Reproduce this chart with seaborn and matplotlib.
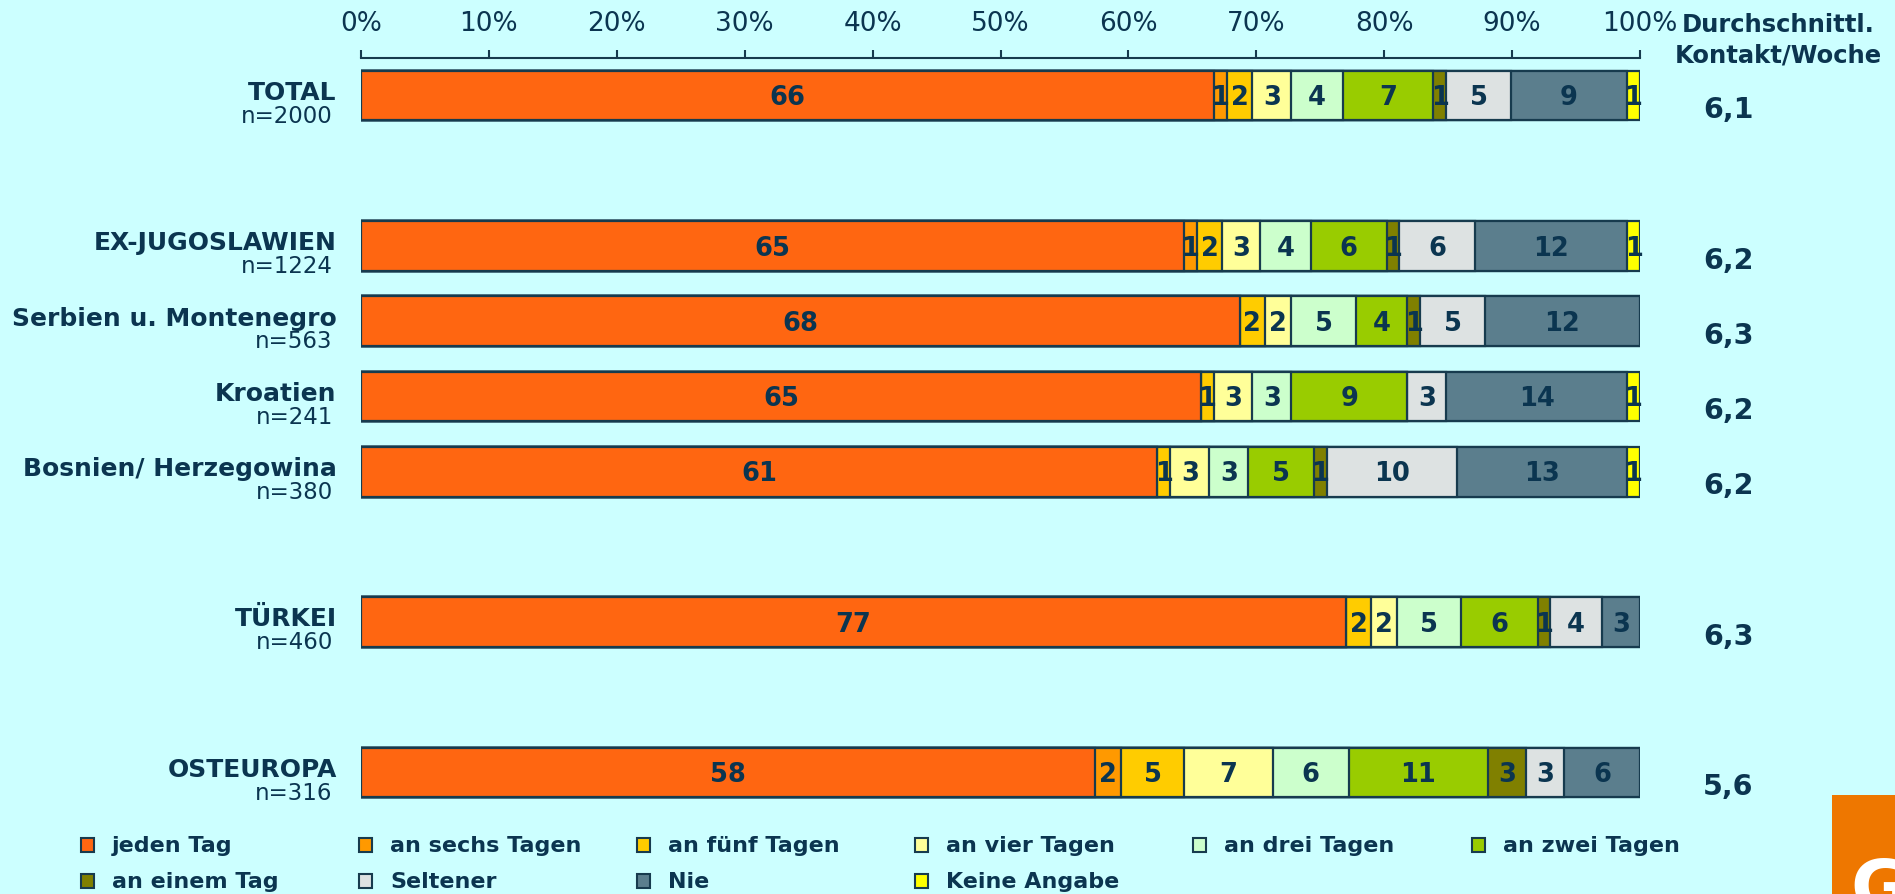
import numpy as np
import pandas as pd
import matplotlib
matplotlib.use("Agg")
import matplotlib.pyplot as plt
import seaborn as sns
from matplotlib.patches import Rectangle

# ==========================================
# 1. DATA
# ==========================================
groups = ["TOTAL", "EX-JUGOSLAWIEN", "Serbien u. Montenegro", "Kroatien",
          "Bosnien/ Herzegowina", "TÜRKEI", "OSTEUROPA"]
sample_n = ["n=2000", "n=1224", "n=563", "n=241", "n=380", "n=460", "n=316"]
row_pos = [0, 2, 3, 4, 5, 7, 9]          # leere Zeilen zwischen den Blöcken
avg_contact = ["6,1", "6,2", "6,3", "6,2", "6,2", "6,3", "5,6"]

answers = ["jeden Tag", "an sechs Tagen", "an fünf Tagen", "an vier Tagen",
           "an drei Tagen", "an zwei Tagen", "an einem Tag", "Seltener",
           "Nie", "Keine Angabe"]

jeden_tag = [66, 65, 68, 65, 61, 77, 58]
sechs_tage = [1, 1, 0, 0, 0, 0, 2]
fuenf_tage = [2, 2, 2, 1, 1, 2, 5]
vier_tage = [3, 3, 2, 3, 3, 2, 7]
drei_tage = [4, 4, 5, 3, 3, 5, 6]
zwei_tage = [7, 6, 4, 9, 5, 6, 11]
einem_tag = [1, 1, 1, 0, 1, 1, 3]
seltener = [5, 6, 5, 3, 10, 4, 3]
nie = [9, 12, 12, 14, 13, 3, 6]
keine_angabe = [1, 1, 0, 1, 1, 0, 0]

colors = ["#FF6611", "#FF9900", "#FFCC00", "#FFFF99", "#CCFFCC",
          "#99CC00", "#808000", "#DDE2E2", "#5B7E8D", "#FFFF00"]

# ==========================================
# 2. PRE-PROCESSING
# ==========================================
df = pd.DataFrame(
    np.array([jeden_tag, sechs_tage, fuenf_tage, vier_tage, drei_tage,
              zwei_tage, einem_tag, seltener, nie, keine_angabe]).T,
    columns=answers)
df["pos"] = row_pos
# 100%-Balken: Anteile auf die Zeilensumme normieren
pct = df[answers].div(df[answers].sum(axis=1), axis=0) * 100
cum = pct.cumsum(axis=1)

# ==========================================
# 3. PLOT
# ==========================================
BG = "#CCFFFF"
TXT = "#0B3550"
EDGE = "#173B4E"
W, H = 1895, 895

sns.set_theme(style="white")
plt.rcParams["font.family"] = ["DejaVu Sans"]

fig = plt.figure(figsize=(W / 100, H / 100), dpi=100, facecolor=BG)
ax = fig.add_axes([361 / W, 1 - 806 / H, (1640 - 361) / W, (806 - 59) / H])
ax.set_facecolor(BG)

# kumulierte Balken von hinten nach vorne zeichnen
for k in range(len(answers) - 1, -1, -1):
    sns.barplot(x=cum[answers[k]], y=df["pos"], orient="h", native_scale=True,
                color=colors[k], edgecolor=EDGE, linewidth=1.6, width=0.66,
                saturation=1, errorbar=None, ax=ax)

# Werte in den Segmenten
for i in range(len(df)):
    for k, col in enumerate(answers):
        val = df[col].iloc[i]
        if val > 0:
            xc = cum[col].iloc[i] - pct[col].iloc[i] / 2
            ax.text(xc, df["pos"].iloc[i] + 0.02, f"{val}", ha="center", va="center",
                    fontsize=18.5, fontweight="bold", color=TXT)

# Gruppenbeschriftungen links, Durchschnitt rechts
for i, p in enumerate(row_pos):
    ax.text(-1.9, p - 0.05, groups[i], ha="right", va="center",
            fontsize=18, fontweight="bold", color=TXT)
    ax.text(-2.2, p + 0.26, sample_n[i], ha="right", va="center",
            fontsize=16.5, color=TXT)
    ax.text(106.9, p + 0.18, avg_contact[i], ha="center", va="center",
            fontsize=20.5, fontweight="bold", color=TXT)

fig.text(1778 / W, 1 - 40 / H, "Durchschnittl.\nKontakt/Woche", ha="center",
         va="center", fontsize=17.5, fontweight="bold", color=TXT, linespacing=1.35)

ax.set_xlim(0, 100)
ax.set_ylim(9.43, -0.5)
ax.xaxis.tick_top()
ax.set_xticks(range(0, 101, 10))
ax.set_xticklabels([f"{t}%" for t in range(0, 101, 10)], fontsize=19, color=TXT)
ax.tick_params(axis="x", direction="out", length=6, width=1.5, color=EDGE, pad=10)
ax.set_yticks([])
ax.set_xlabel("")
ax.set_ylabel("")
for s in ["left", "right", "bottom"]:
    ax.spines[s].set_visible(False)
ax.spines["top"].set_color(EDGE)
ax.spines["top"].set_linewidth(1.5)

# Legende (zwei Zeilen, feste Spaltenabstände)
col_x = [81, 359, 637, 915, 1193, 1472]
row_y = [846, 882]
for k, lab in enumerate(answers):
    r, c = divmod(k, 6)
    x0, yc = col_x[c], row_y[r]
    fig.add_artist(Rectangle((x0 / W, 1 - (yc + 7) / H), 13 / W, 14 / H,
                             transform=fig.transFigure, facecolor=colors[k],
                             edgecolor=EDGE, linewidth=1.5))
    fig.text((x0 + 31) / W, 1 - yc / H, lab, ha="left", va="center",
             fontsize=16, fontweight="bold", color=TXT)

# Logo-Ecke unten rechts
fig.add_artist(Rectangle((1832 / W, 0), (W - 1832) / W, (895 - 796) / H,
                         transform=fig.transFigure, facecolor="#EE7700",
                         edgecolor="none"))
fig.text(1850 / W, -0.035, "G", ha="left", va="bottom", fontsize=52,
         fontweight="bold", color="white")

plt.savefig("out.png", dpi=100, facecolor=BG)
